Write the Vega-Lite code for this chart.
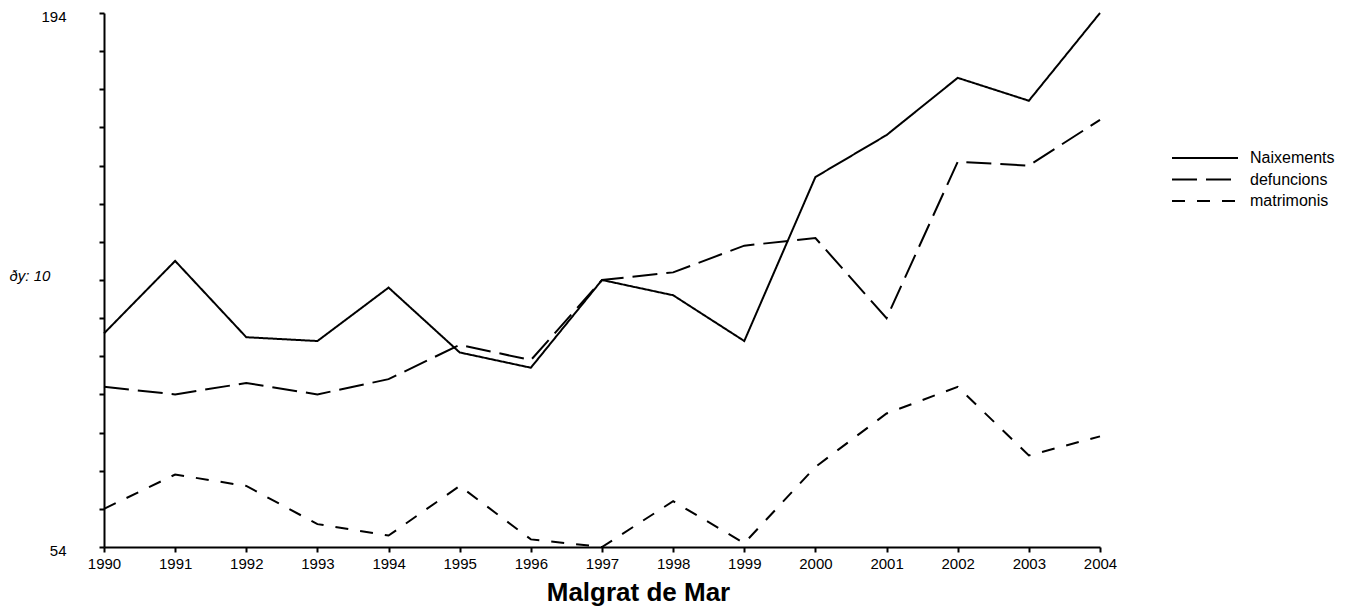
{
  "$schema": "https://vega.github.io/schema/vega-lite/v6.json",
  "width": 996,
  "height": 534,
  "autosize": "none",
  "padding": {"left": 104, "top": 13, "right": 251, "bottom": 63},
  "background": "white",
  "config": {
    "view": {"stroke": null},
    "font": "Liberation Sans",
    "axis": {"grid": false, "domainColor": "black", "tickColor": "black", "labelColor": "black", "titleColor": "black", "domainWidth": 2, "tickWidth": 2, "tickSize": 5, "labelFont": "Liberation Sans", "titleFont": "Liberation Sans", "labelFontSize": 15}
  },
  "data": {
    "values": [
      {"year": 1990, "serie": "Naixements", "value": 110},
      {"year": 1991, "serie": "Naixements", "value": 129},
      {"year": 1992, "serie": "Naixements", "value": 109},
      {"year": 1993, "serie": "Naixements", "value": 108},
      {"year": 1994, "serie": "Naixements", "value": 122},
      {"year": 1995, "serie": "Naixements", "value": 105},
      {"year": 1996, "serie": "Naixements", "value": 101},
      {"year": 1997, "serie": "Naixements", "value": 124},
      {"year": 1998, "serie": "Naixements", "value": 120},
      {"year": 1999, "serie": "Naixements", "value": 108},
      {"year": 2000, "serie": "Naixements", "value": 151},
      {"year": 2001, "serie": "Naixements", "value": 162},
      {"year": 2002, "serie": "Naixements", "value": 177},
      {"year": 2003, "serie": "Naixements", "value": 171},
      {"year": 2004, "serie": "Naixements", "value": 194},
      {"year": 1990, "serie": "defuncions", "value": 96},
      {"year": 1991, "serie": "defuncions", "value": 94},
      {"year": 1992, "serie": "defuncions", "value": 97},
      {"year": 1993, "serie": "defuncions", "value": 94},
      {"year": 1994, "serie": "defuncions", "value": 98},
      {"year": 1995, "serie": "defuncions", "value": 107},
      {"year": 1996, "serie": "defuncions", "value": 103},
      {"year": 1997, "serie": "defuncions", "value": 124},
      {"year": 1998, "serie": "defuncions", "value": 126},
      {"year": 1999, "serie": "defuncions", "value": 133},
      {"year": 2000, "serie": "defuncions", "value": 135},
      {"year": 2001, "serie": "defuncions", "value": 114},
      {"year": 2002, "serie": "defuncions", "value": 155},
      {"year": 2003, "serie": "defuncions", "value": 154},
      {"year": 2004, "serie": "defuncions", "value": 166},
      {"year": 1990, "serie": "matrimonis", "value": 64},
      {"year": 1991, "serie": "matrimonis", "value": 73},
      {"year": 1992, "serie": "matrimonis", "value": 70},
      {"year": 1993, "serie": "matrimonis", "value": 60},
      {"year": 1994, "serie": "matrimonis", "value": 57},
      {"year": 1995, "serie": "matrimonis", "value": 70},
      {"year": 1996, "serie": "matrimonis", "value": 56},
      {"year": 1997, "serie": "matrimonis", "value": 54},
      {"year": 1998, "serie": "matrimonis", "value": 66},
      {"year": 1999, "serie": "matrimonis", "value": 55},
      {"year": 2000, "serie": "matrimonis", "value": 75},
      {"year": 2001, "serie": "matrimonis", "value": 89},
      {"year": 2002, "serie": "matrimonis", "value": 96},
      {"year": 2003, "serie": "matrimonis", "value": 78},
      {"year": 2004, "serie": "matrimonis", "value": 83}
    ]
  },
  "mark": {"type": "line", "color": "black", "strokeWidth": 2, "clip": false},
  "encoding": {
    "x": {
      "field": "year",
      "type": "quantitative",
      "scale": {"domain": [1990, 2004], "nice": false, "zero": false},
      "axis": {
        "values": [1990, 1991, 1992, 1993, 1994, 1995, 1996, 1997, 1998, 1999, 2000, 2001, 2002, 2003, 2004],
        "format": "d",
        "labelFlush": false,
        "labelOverlap": false,
        "labelPadding": 4,
        "title": "Malgrat de Mar",
        "titleFontSize": 26,
        "titleFontWeight": "bold",
        "titleAlign": "center",
        "titleBaseline": "alphabetic",
        "titleX": 534,
        "titleY": 53
      }
    },
    "y": {
      "field": "value",
      "type": "quantitative",
      "scale": {"domain": [54, 194], "nice": false, "zero": false},
      "axis": {
        "values": [54, 64, 74, 84, 94, 104, 114, 124, 134, 144, 154, 164, 174, 184, 194],
        "labelExpr": "datum.value == 54 || datum.value == 194 ? datum.label : ''",
        "labelOverlap": false,
        "labelFlush": false,
        "labelPadding": 33,
        "labelOffset": 3,
        "title": "ðy: 10",
        "titleAngle": 0,
        "titleFontSize": 15,
        "titleFontStyle": "italic",
        "titleFontWeight": "normal",
        "titleAlign": "left",
        "titleBaseline": "middle",
        "titleX": -95,
        "titleY": 262
      }
    },
    "strokeDash": {
      "field": "serie",
      "type": "nominal",
      "scale": {"domain": ["Naixements", "defuncions", "matrimonis"], "range": [[1, 0], [25, 9], [13, 12]]},
      "legend": {
        "title": null,
        "orient": "none",
        "legendX": 1093,
        "legendY": 137,
        "padding": 0,
        "symbolType": "M-6.6,0H6.6",
        "symbolSize": 100,
        "symbolStrokeWidth": 2,
        "symbolStrokeColor": "black",
        "labelFont": "Liberation Sans",
        "labelFontSize": 16,
        "labelColor": "black",
        "labelOffset": 37,
        "rowPadding": 5.5
      }
    }
  }
}
